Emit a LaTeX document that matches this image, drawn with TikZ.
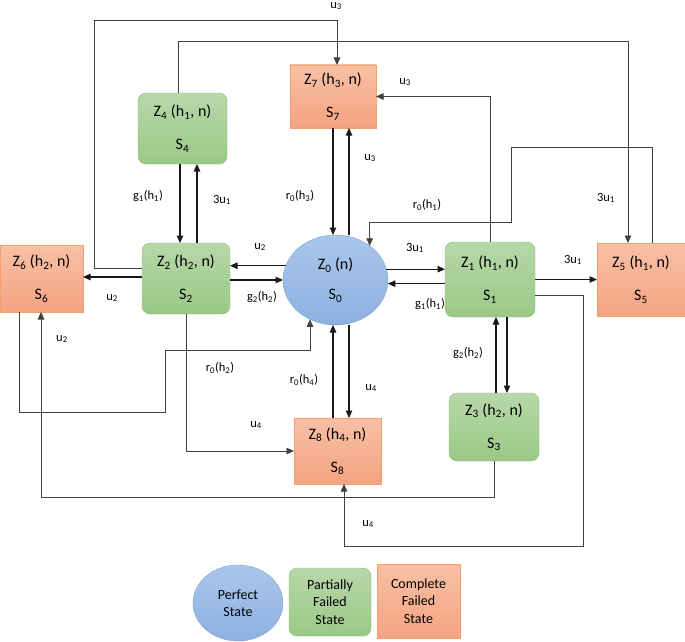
\documentclass[tikz,border=0pt]{standalone}
\usepackage{fontspec}
\setmainfont{Carlito}
\usetikzlibrary{shapes.geometric,arrows.meta}

\definecolor{bluetop}{HTML}{AAC6EA}
\definecolor{bluebot}{HTML}{8DB0E2}
\definecolor{blueline}{HTML}{7EA4D8}
\definecolor{greentop}{HTML}{B7D8A9}
\definecolor{greenbot}{HTML}{9AC886}
\definecolor{greenline}{HTML}{8CBF76}
\definecolor{orangetop}{HTML}{F8C0A5}
\definecolor{orangebot}{HTML}{F4A382}
\definecolor{orangeline}{HTML}{F3A06E}

\newcommand{\sbs}[1]{\textsubscript{#1}}

\tikzset{
  perfect/.style={ellipse, draw=blueline, top color=bluetop, bottom color=bluebot,
    inner sep=0pt, outer sep=0pt, align=center, font=\fontsize{16}{19}\selectfont},
  partial/.style={rectangle, rounded corners=8pt, draw=greenline, top color=greentop,
    bottom color=greenbot, inner sep=0pt, outer sep=0pt, align=center,
    font=\fontsize{16}{19}\selectfont},
  failed/.style={rectangle, draw=orangeline, top color=orangetop, bottom color=orangebot,
    inner sep=0pt, outer sep=0pt, align=center, font=\fontsize{16}{19}\selectfont},
  key/.style={font=\fontsize{14}{17.5}\selectfont},
  lab/.style={font=\fontsize{12.5}{15}\selectfont, inner sep=1pt},
  arr/.style={line width=1.1pt, draw=black!90, -{Triangle[length=7.5pt,width=6.5pt]}},
  longarr/.style={line width=0.8pt, draw=black!75, -{Triangle[length=7.5pt,width=6.5pt]}},
}

\begin{document}
\begin{tikzpicture}[x=1pt,y=-1pt]
\useasboundingbox (0,0) rectangle (685,642);

% states
\node[perfect, minimum width=105, minimum height=90] (z0) at (335.5,280) {Z\sbs{0} (n)\\[11pt]S\sbs{0}};
\node[partial, minimum width=90, minimum height=75] (z1) at (490,279.5) {Z\sbs{1} (h\sbs{1}, n)\\[14pt]S\sbs{1}};
\node[partial, minimum width=88, minimum height=71] (z2) at (186,278.5) {Z\sbs{2} (h\sbs{2}, n)\\[14pt]S\sbs{2}};
\node[partial, minimum width=90, minimum height=68] (z3) at (494,427) {Z\sbs{3} (h\sbs{2}, n)\\[14pt]S\sbs{3}};
\node[partial, minimum width=89, minimum height=71] (z4) at (182.5,128.5) {Z\sbs{4} (h\sbs{1}, n)\\[14pt]S\sbs{4}};
\node[failed, minimum width=88, minimum height=73] (z5) at (641,279.5) {Z\sbs{5} (h\sbs{1}, n)\\[14pt]S\sbs{5}};
\node[failed, minimum width=83, minimum height=67] (z6) at (41.5,278.5) {Z\sbs{6} (h\sbs{2}, n)\\[14pt]S\sbs{6}};
\node[failed, minimum width=86, minimum height=63] (z7) at (333,96.5) {Z\sbs{7} (h\sbs{3}, n)\\[14pt]S\sbs{7}};
\node[failed, minimum width=87, minimum height=66] (z8) at (337.5,451) {Z\sbs{8} (h\sbs{4}, n)\\[14pt]S\sbs{8}};

% legend
\node[perfect, key, minimum width=90, minimum height=76] (k0) at (238,603) {Perfect\\State};
\node[partial, key, minimum width=82, minimum height=68] (k1) at (330,602) {Partially\\Failed\\State};
\node[failed, key, minimum width=83, minimum height=74] (k2) at (418.5,601) {Complete\\Failed\\State};

% transitions around Z0
\draw[arr] (z7.south) -- (z7.south |- z0.north);
\draw[arr] (z0.north -| 349,0) -- (z7.south -| 349,0);
\draw[arr] (z8.north -| 333,0) -- (z0.south -| 333,0);
\draw[arr] (z0.south -| 349,0) -- (z8.north -| 349,0);
\draw[arr] (z0.164) -- (z2.east |- z0.164);
\draw[arr] (z2.east |- z0.west) -- (z0.west);
\draw[arr] (z0.12) -- (z1.west |- z0.12);
\draw[arr] (z1.west |- z0.-4) -- (z0.-4);

% transitions of the partial states
\draw[arr] (z4.south -| 180,0) -- (z2.north -| 180,0);
\draw[arr] (z2.north -| 197,0) -- (z4.south -| 197,0);
\draw[arr] (z3.north -| 496,0) -- (z1.south -| 496,0);
\draw[arr] (z1.south -| 507,0) -- (z3.north -| 507,0);
\draw[arr] (z2.west |- 0,277) -- (z6.east |- 0,277);
\draw[arr] (z1.east) -- (z5.west);
\draw[longarr] (z1.north) |- (z7.east);
\draw[longarr] (z2.south) |- (z8.west);

% long way round
\draw[longarr] (z2.west |- 0,268) -| (94,20) -| ([xshift=4]z7.north);
\draw[longarr] ([xshift=-4]z4.north) |- (628,41) -- (z5.north -| 628,0);
\draw[longarr] (z5.north -| 652,0) |- (511,147) |- (z0.45 |- 0,222) -- (z0.45);
\draw[longarr] (z1.east |- 0,295) -| (583,546) -| (z8.south -| 344,0);
\draw[longarr] (z3.south) |- (41,497) -- (z6.south -| 41,0);
\draw[longarr] (z6.south -| 19,0) |- (165,412) |- (z0.237 |- 0,350) -- (z0.237);

% rates
\node[lab] (t1) at (336,6) {u\sbs{3}};
\node[lab] (t2) at (606,198) {3u\sbs{1}};
\node[lab] (t3) at (405,82) {u\sbs{3}};
\node[lab] (t4) at (300,196) {r\sbs{0}(h\sbs{3})};
\node[lab] (t5) at (370,158) {u\sbs{3}};
\node[lab] (t6) at (148,196) {g\sbs{1}(h\sbs{1})};
\node[lab] (t7) at (222,200) {3u\sbs{1}};
\node[lab] (t8) at (427,205) {r\sbs{0}(h\sbs{1})};
\node[lab] (t9) at (260,247) {u\sbs{2}};
\node[lab] (t10) at (262,297) {g\sbs{2}(h\sbs{2})};
\node[lab] (t11) at (415,248) {3u\sbs{1}};
\node[lab] (t12) at (430,304) {g\sbs{1}(h\sbs{1})};
\node[lab] (t13) at (573,260) {3u\sbs{1}};
\node[lab] (t14) at (112,298) {u\sbs{2}};
\node[lab] (t15) at (62,339) {u\sbs{2}};
\node[lab] (t16) at (220,368) {r\sbs{0}(h\sbs{2})};
\node[lab] (t17) at (304,380) {r\sbs{0}(h\sbs{4})};
\node[lab] (t18) at (371,388) {u\sbs{4}};
\node[lab] (t19) at (468,353) {g\sbs{2}(h\sbs{2})};
\node[lab] (t20) at (256,425) {u\sbs{4}};
\node[lab] (t21) at (368,524) {u\sbs{4}};

\end{tikzpicture}
\end{document}
